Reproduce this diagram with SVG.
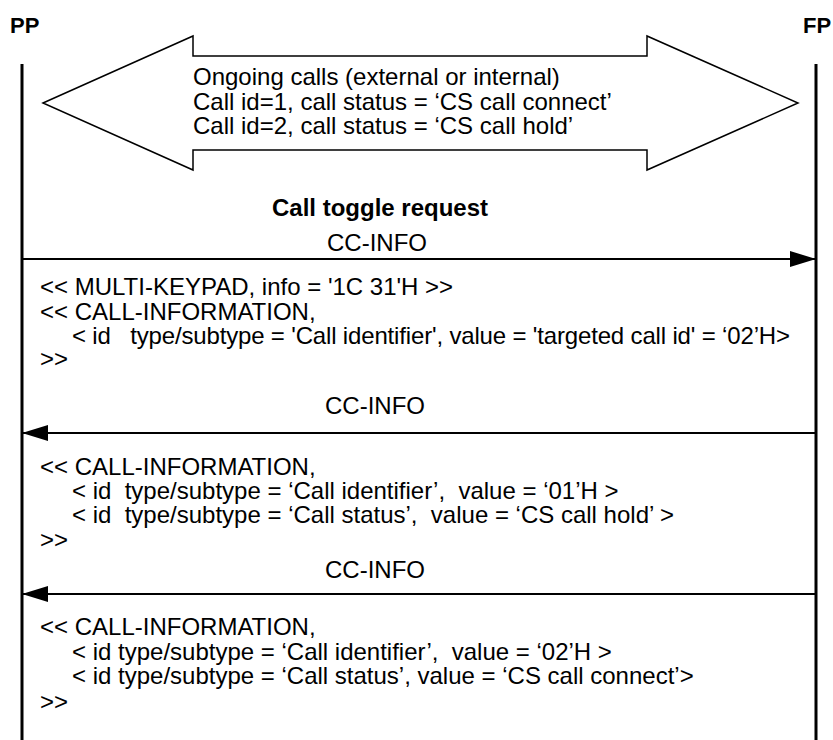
<svg xmlns="http://www.w3.org/2000/svg" width="833" height="740" viewBox="0 0 833 740">
<style>
text{font-family:"Liberation Sans",Arial,sans-serif;font-size:24px;fill:#000}
.b{font-weight:bold}
.h{font-size:22px}
.life{stroke:#000;stroke-width:3}
.msg{stroke:#000;stroke-width:2}
.shape{fill:#fff;stroke:#000;stroke-width:1.5}
</style>
<defs>
<marker id="ah" markerUnits="userSpaceOnUse" markerWidth="26" markerHeight="16" refX="26" refY="8" orient="auto">
<path d="M0,0 L26,8 L0,16 z" fill="#000"/>
</marker>
</defs>
<g id="PP">
<text class="b h" x="10" y="33">PP</text>
<line class="life" x1="22" y1="64" x2="22" y2="740"/>
</g>
<g id="FP">
<text class="b h" x="803" y="33">FP</text>
<line class="life" x1="816" y1="64" x2="816" y2="740"/>
</g>
<g id="ongoing">
<polygon class="shape" points="43,103 193,36 193,56 647,56 647,36 798,103 647,170 647,150 193,150 193,170"/>
<text x="193" y="84.5">Ongoing calls (external or internal)</text>
<text x="193" y="109.5">Call id=1, call status = ‘CS call connect’</text>
<text x="193" y="133.5">Call id=2, call status = ‘CS call hold’</text>
</g>
<g id="toggle">
<text class="b" x="272" y="215.5">Call toggle request</text>
</g>
<g id="connectors">
<line class="msg" x1="22" y1="259" x2="816" y2="259" marker-end="url(#ah)"/>
<line class="msg" x1="816" y1="433" x2="22" y2="433" marker-end="url(#ah)"/>
<line class="msg" x1="816" y1="594" x2="22" y2="594" marker-end="url(#ah)"/>
</g>
<g id="msg1">
<text x="377" y="250.5" text-anchor="middle">CC-INFO</text>
<text x="40" y="294.5">&lt;&lt; MULTI-KEYPAD, info = '1C 31'H &gt;&gt;</text>
<text x="40" y="319.5">&lt;&lt; CALL-INFORMATION,</text>
<text x="72" y="343.5" xml:space="preserve" textLength="718" lengthAdjust="spacing">&lt; id   type/subtype = 'Call identifier', value = 'targeted call id' = ‘02’H&gt;</text>
<text x="40" y="366.5">&gt;&gt;</text>
</g>
<g id="msg2">
<text x="375" y="413.5" text-anchor="middle">CC-INFO</text>
<text x="40" y="474.5">&lt;&lt; CALL-INFORMATION,</text>
<text x="72" y="498.5" xml:space="preserve">&lt; id  type/subtype = ‘Call identifier’,  value = ‘01’H &gt;</text>
<text x="72" y="522.5" xml:space="preserve">&lt; id  type/subtype = ‘Call status’,  value = ‘CS call hold’ &gt;</text>
<text x="40" y="547.5">&gt;&gt;</text>
</g>
<g id="msg3">
<text x="375" y="577.5" text-anchor="middle">CC-INFO</text>
<text x="40" y="634.5">&lt;&lt; CALL-INFORMATION,</text>
<text x="72" y="659.5" xml:space="preserve">&lt; id type/subtype = ‘Call identifier’,  value = ‘02’H &gt;</text>
<text x="72" y="683.5" xml:space="preserve">&lt; id type/subtype = ‘Call status’, value = ‘CS call connect’&gt;</text>
<text x="40" y="709.5">&gt;&gt;</text>
</g>
</svg>
